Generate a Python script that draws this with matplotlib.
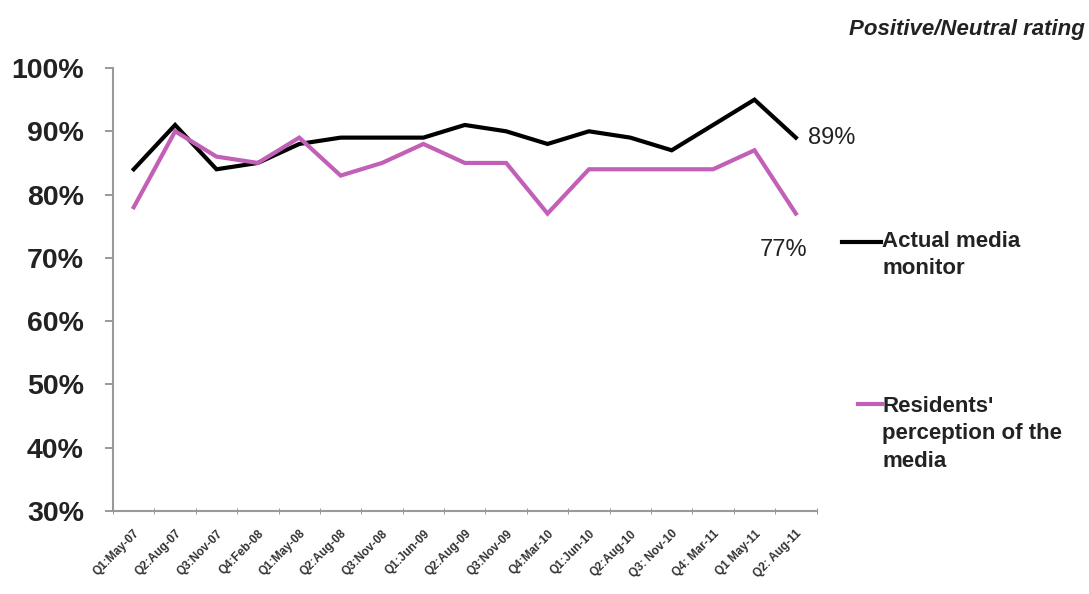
import numpy as np
import matplotlib.pyplot as plt

plt.rcParams['font.family'] = ['Liberation Sans', 'DejaVu Sans']

# Quarters (x axis categories)
quarters = ['Q1:May-07', 'Q2:Aug-07', 'Q3:Nov-07', 'Q4:Feb-08', 'Q1:May-08',
            'Q2:Aug-08', 'Q3:Nov-08', 'Q1:Jun-09', 'Q2:Aug-09', 'Q3:Nov-09',
            'Q4:Mar-10', 'Q1:Jun-10', 'Q2:Aug-10', 'Q3: Nov-10', 'Q4: Mar-11',
            'Q1 May-11', 'Q2: Aug-11']

# Positive/neutral rating (%)
actual_media = [84, 91, 84, 85, 88, 89, 89, 89, 91, 90, 88, 90, 89, 87, 91, 95, 89]
residents = [78, 90, 86, 85, 89, 83, 85, 88, 85, 85, 77, 84, 84, 84, 84, 87, 77]

yticks = [30, 40, 50, 60, 70, 80, 90, 100]

black = '#000000'
pink = '#c25fb6'

fig = plt.figure(figsize=(10.89, 5.94), dpi=100)
ax = fig.add_axes([0.1038, 0.1397, 0.646, 0.7458])

x = np.arange(len(quarters))
ax.plot(x, actual_media, color=black, linewidth=3, solid_joinstyle='miter')
ax.plot(x, residents, color=pink, linewidth=3, solid_joinstyle='miter')

ax.set_xlim(-0.5, len(quarters) - 0.5)
ax.set_ylim(30, 100)
ax.set_yticks(yticks)
ax.set_yticklabels([f'{v}%' for v in yticks], fontsize=20.5, fontweight='bold', color='#222222')
ax.set_xticks(x)
ax.set_xticklabels(quarters, rotation=45, ha='right', rotation_mode='anchor',
                   fontsize=8.5, fontweight='bold', color='#333333')
ax.set_xticks(np.arange(len(quarters) + 1) - 0.5, minor=True)
ax.tick_params(axis='x', which='major', length=0, pad=12)
ax.tick_params(axis='x', which='minor', length=5, direction='inout', color='#888888')
ax.tick_params(axis='y', length=6, color='#888888', width=1.2, pad=15)

for side in ['top', 'right']:
    ax.spines[side].set_visible(False)
for side in ['left', 'bottom']:
    ax.spines[side].set_color('#999999')
    ax.spines[side].set_linewidth(1.5)

# End labels
ax.annotate(f'{actual_media[-1]}%', xy=(x[-1], actual_media[-1]), xytext=(9, 0),
            textcoords='offset points', fontsize=17, va='center', ha='left', color='#222222')
ax.annotate(f'{residents[-1]}%', xy=(x[-1], residents[-1]), xytext=(-26, -26),
            textcoords='offset points', fontsize=17, va='center', ha='left', color='#222222')

# Legend drawn as figure text with line keys
fig.add_artist(plt.Line2D([842 / 1089, 881 / 1089], [1 - 242 / 594] * 2, color=black, linewidth=3))
fig.text(882 / 1089, 1 - 231 / 594, 'Actual media\nmonitor', fontsize=16, fontweight='bold',
         va='top', ha='left', color='#222222', linespacing=1.4)
fig.add_artist(plt.Line2D([858 / 1089, 882 / 1089], [1 - 404 / 594] * 2, color=pink, linewidth=3))
fig.text(882 / 1089, 1 - 396 / 594, "Residents'\nperception of the\nmedia", fontsize=16,
         fontweight='bold', va='top', ha='left', color='#222222', linespacing=1.4)

fig.text(1085 / 1089, 1 - 30 / 594, 'Positive/Neutral rating', fontsize=16, fontweight='bold',
         fontstyle='italic', ha='right', va='center', color='#222222')

fig.savefig('out.png', dpi=100)
